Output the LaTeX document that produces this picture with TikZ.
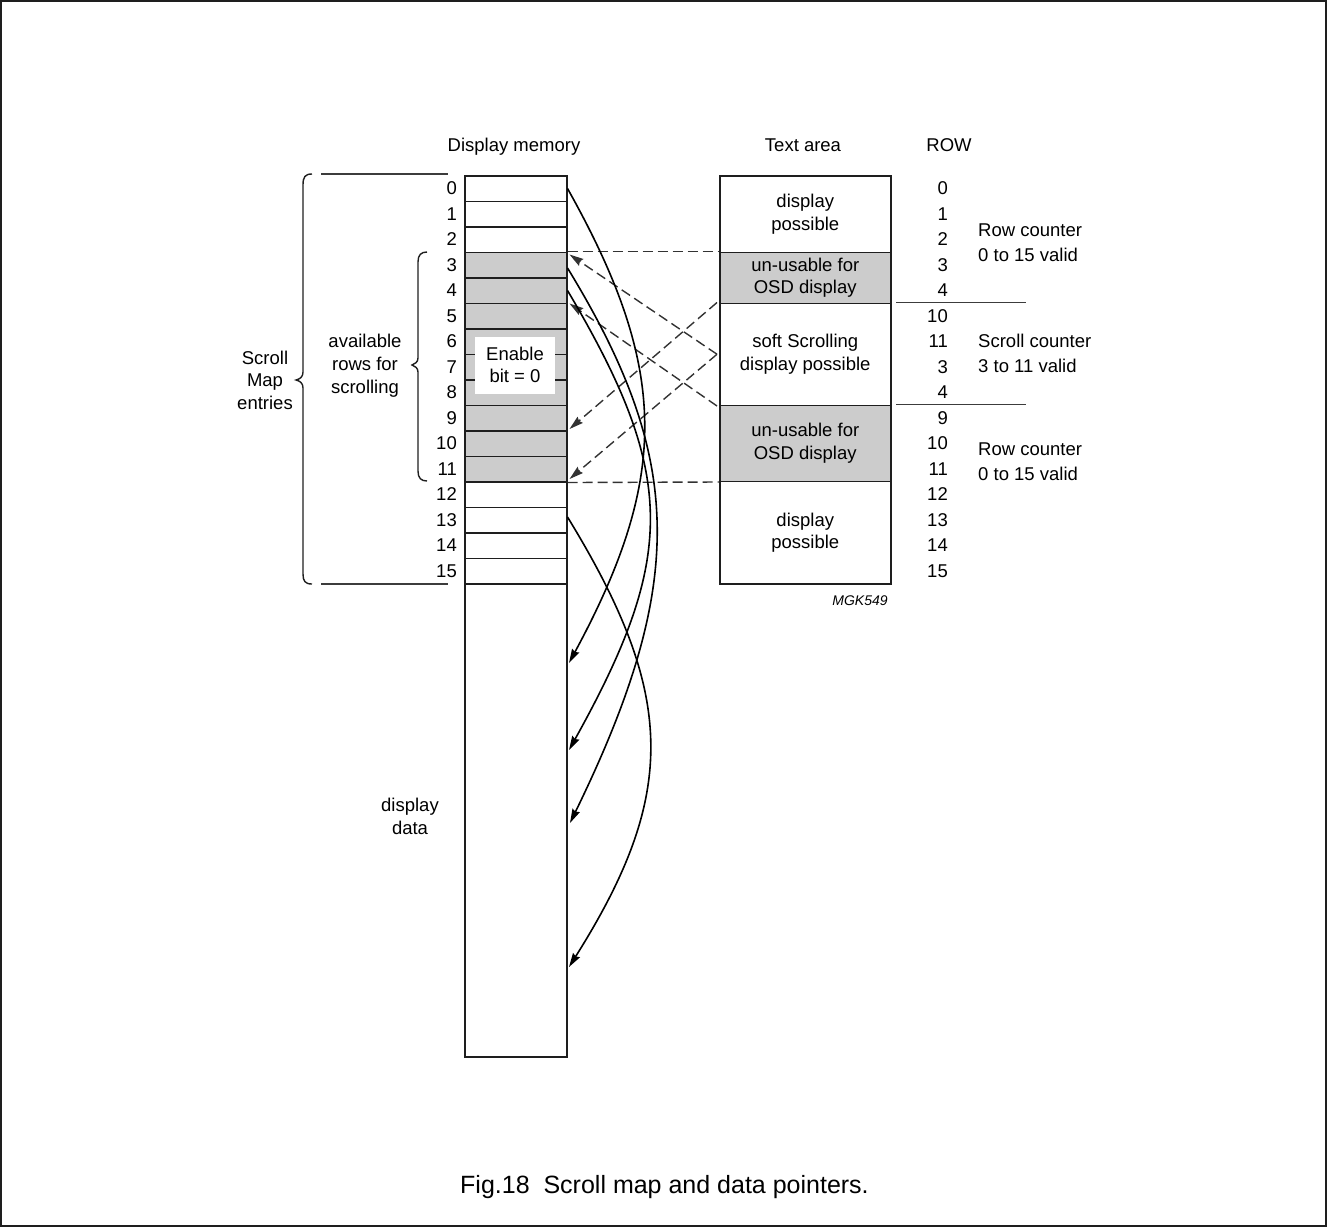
\documentclass[tikz,border=0pt]{standalone}
\usepackage{fontspec}
\setmainfont{Liberation Sans}
\usetikzlibrary{arrows.meta,calc}
\definecolor{ink}{RGB}{30,30,30}
\definecolor{shade}{RGB}{204,204,204}
\definecolor{dashc}{RGB}{50,50,50}
\definecolor{rule}{RGB}{60,60,60}
\begin{document}
\begin{tikzpicture}[x=1pt,y=-1pt,
  every node/.style={font=\fontsize{18.5}{22.5}\selectfont, inner sep=0pt, text=black},
  cell/.style={draw=ink, line width=1.5pt, minimum width=102pt, minimum height=25.5pt, anchor=north west},
  tbox/.style={draw=ink, line width=1.5pt, minimum width=171pt, anchor=north west, align=center},
  ptr/.style={draw=black, line width=1.6pt, -{Stealth[length=14pt,width=8pt,inset=1.5pt]}},
  dptr/.style={draw=dashc, line width=1.4pt, dash pattern=on 10pt off 5pt, -{Stealth[length=14pt,width=8pt,inset=1.5pt]}},
  dline/.style={draw=dashc, line width=1.4pt, dash pattern=on 10pt off 5pt},
  thin rule/.style={draw=rule, line width=1.4pt},
  lbl/.style={anchor=base},
  brace line/.style={draw=ink, line width=1.4pt}
]
\useasboundingbox (0,0) rectangle (1327,1227);
\draw[line width=1.5pt, draw=ink] (1,1) rectangle (1326,1226);

% headers
\node[lbl] (hmem) at (514,151.5) {Display memory};
\node[lbl] (htext) at (803,151) {Text area};
\node[lbl] (hrow) at (949,151) {ROW};

% memory cells
\foreach \i in {0,1,2,12,13,14,15}
  \node[cell] (m\i) at (464,{175+25.5*\i}) {};
\foreach \i in {3,...,11}
  \node[cell, fill=shade] (m\i) at (464,{175+25.5*\i}) {};
\node[cell, minimum height=473pt] (data) at (464,583) {};
\foreach \i in {0,...,15}
  \node[anchor=base east] (n\i) at (457,{175+25.5*\i+19.5}) {\i};

% enable box
\node[fill=white, minimum width=80pt, minimum height=57pt, align=center] (en) at (515,365) {Enable\\bit = 0};

% text area
\node[tbox, minimum height=76.5pt] (ta1) at (719,175) {display\\possible};
\node[tbox, minimum height=51pt, fill=shade] (ta2) at (719,251.5) {un-usable for\\OSD display};
\node[tbox, minimum height=102pt] (ta3) at (719,302.5) {soft Scrolling\\display possible};
\node[tbox, minimum height=76pt, fill=shade] (ta4) at (719,404.5) {un-usable for\\OSD display};
\node[tbox, minimum height=102.5pt] (ta5) at (719,480.5) {display\\possible};

% ROW numbers
\foreach \l [count=\c from 0] in {0,1,2,3,4,10,11,3,4,9,10,11,12,13,14,15}
  \node[anchor=base east] (r\c) at (948,{175+25.5*\c+19.5}) {\l};

% separators
\coordinate (s1a) at (896,302.5); \coordinate (s1b) at (1026,302.5);
\coordinate (s2a) at (896,404.5); \coordinate (s2b) at (1026,404.5);
\draw[thin rule] (s1a) -- (s1b);
\draw[thin rule] (s2a) -- (s2b);

% right labels
\node[anchor=base west] (rc1) at (978,236) {Row counter};
\node[anchor=base west] (rv1) at (978,261) {0 to 15 valid};
\node[anchor=base west] (sc) at (978,347) {Scroll counter};
\node[anchor=base west] (sv) at (978,372) {3 to 11 valid};
\node[anchor=base west] (rc2) at (978,455) {Row counter};
\node[anchor=base west] (rv2) at (978,480) {0 to 15 valid};

\node[anchor=base, font=\fontsize{14}{16}\selectfont\itshape] (mgk) at (860,605) {MGK549};

% scroll map entries rules and brace
\coordinate (h1a) at (321,174); \coordinate (h1b) at (448,174);
\coordinate (h2a) at (321,584); \coordinate (h2b) at (448,584);
\draw[thin rule] (h1a) -- (h1b);
\draw[thin rule] (h2a) -- (h2b);
\draw[brace line] (312,174) .. controls (305,174) and (303,177) .. (303,185) -- (303,372)
  .. controls (303,377) and (300,379) .. (296,380) .. controls (300,381) and (303,383) .. (303,388)
  -- (303,574) .. controls (303,581) and (305,584) .. (312,584);
\node[align=center, font=\fontsize{18.5}{22.5}\selectfont] (sme) at (265,380) {Scroll\\Map\\entries};

% small brace
\draw[brace line] (427,252) .. controls (421,252) and (418,255) .. (418,262) -- (418,358)
  .. controls (418,362) and (415,364) .. (412,365) .. controls (415,366) and (418,368) .. (418,372)
  -- (418,471) .. controls (418,478) and (421,481) .. (427,481);
\node[align=center, font=\fontsize{18.5}{23}\selectfont] (avl) at (365,366) {available\\rows for\\scrolling};

\node[align=center, font=\fontsize{18.5}{23}\selectfont] (dd) at (410,816) {display\\data};

% dashed horizontal
\draw[dline] (m3.north east) -- (ta2.north west);
\draw[dline] (m11.south east) -- (ta4.south west);

% dashed arrows
\draw[dptr] ($(ta3.west)+(-2,0)$) -- ($(m3.north east)+(2,3)$);
\draw[dptr] ($(ta3.south west)+(-2,0)$) -- ($(m5.north east)+(2,1)$);
\draw[dptr] ($(ta3.north west)+(-2,0)$) -- ($(m10.north east)+(2,-1)$);
\draw[dptr] ($(ta3.west)+(-2,0)$) -- ($(m12.north east)+(2,-2)$);

% pointer curves
\coordinate (t0) at (569,663);
\coordinate (t1) at (569,750);
\coordinate (t2) at (570,823);
\coordinate (t3) at (569,967);
\draw[ptr] (m0.east) .. controls +(101,180) and +(101,-187) .. (t0);
\draw[ptr] ($(m3.east)+(0,3)$) .. controls +(116,190) and +(118,-242) .. (t2);
\draw[ptr] (m4.east) .. controls +(109,184) and +(108,-194) .. (t1);
\draw[ptr] ($(m13.east)+(0,-3)$) .. controls +(109,178) and +(109,-173) .. (t3);

% caption
\node[anchor=base west, font=\fontsize{25}{30}\selectfont] (cap) at (460,1193) {Fig.18\ \ Scroll map and data pointers.};
\end{tikzpicture}
\end{document}
